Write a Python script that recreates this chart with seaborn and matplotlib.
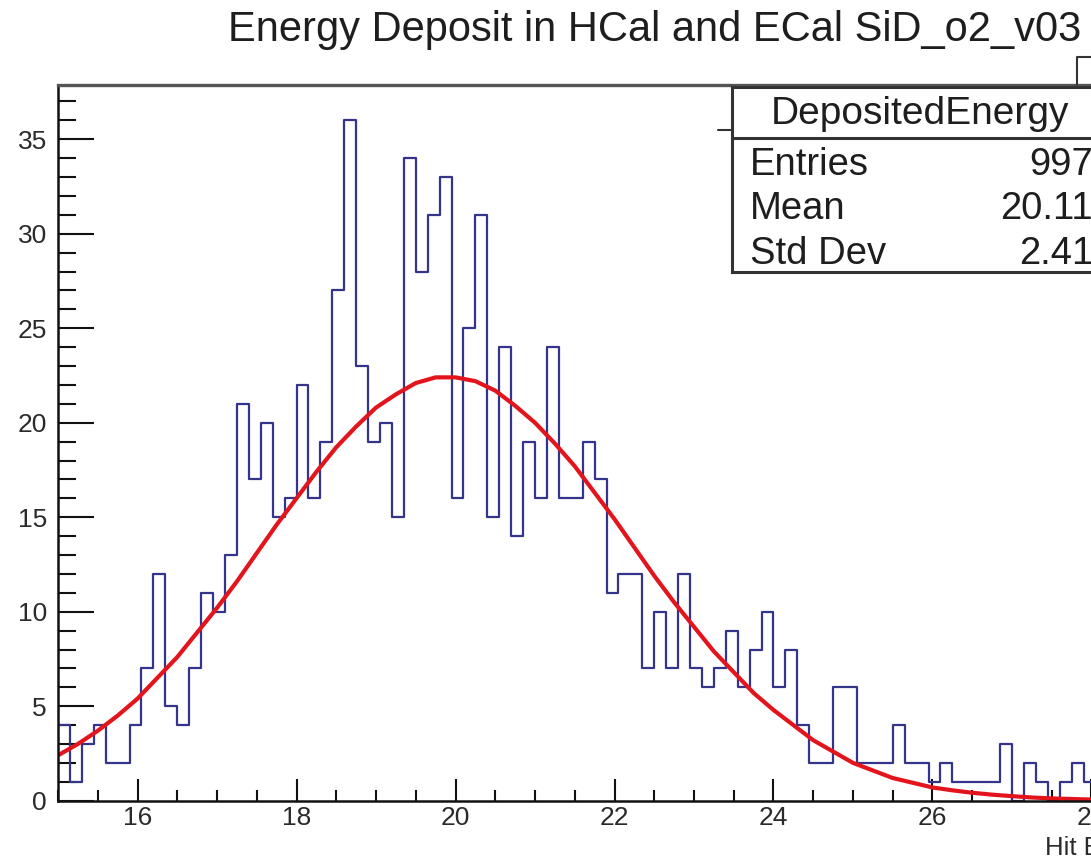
import numpy as np
import pandas as pd
import matplotlib
matplotlib.use("Agg")
import matplotlib.pyplot as plt
from matplotlib.ticker import MultipleLocator
from matplotlib.lines import Line2D
import seaborn as sns

# estilo base, fonte definida depois do set_style
sns.set_style("ticks")
plt.rcParams["font.family"] = ["Liberation Sans", "DejaVu Sans"]

# histograma: 100 bins de 15 a 30, so os bins visiveis foram lidos
x_min = 15.0
bin_width = 0.15
counts = [4, 1, 3, 4, 2, 2, 4, 7, 12, 5,
          4, 7, 11, 10, 13, 21, 17, 20, 15, 16,
          22, 16, 19, 27, 36, 23, 19, 20, 15, 34,
          28, 31, 33, 16, 25, 31, 15, 24, 14, 19,
          16, 24, 16, 16, 19, 17, 11, 12, 12, 7,
          10, 7, 12, 7, 6, 7, 9, 6, 8, 10,
          6, 8, 4, 2, 2, 6, 6, 2, 2, 2,
          4, 2, 2, 1, 2, 1, 1, 1, 1, 3,
          0, 2, 1, 0, 1, 2, 1]

# curva do ajuste (passo de 0.25)
fit_x = [15.0, 15.25, 15.5, 15.75, 16.0, 16.25, 16.5, 16.75, 17.0, 17.25, 17.5, 17.75,
         18.0, 18.25, 18.5, 18.75, 19.0, 19.25, 19.5, 19.75, 20.0, 20.25, 20.5, 20.75,
         21.0, 21.25, 21.5, 21.75, 22.0, 22.25, 22.5, 22.75, 23.0, 23.25, 23.5, 23.75,
         24.0, 24.25, 24.5, 24.75, 25.0, 25.25, 25.5, 25.75, 26.0, 26.25, 26.5, 26.75,
         27.0, 27.25, 27.5, 27.75, 28.0]
fit_y = [2.4, 3.0, 3.7, 4.5, 5.4, 6.5, 7.6, 8.9, 10.2, 11.6, 13.1, 14.6,
         16.0, 17.4, 18.7, 19.8, 20.8, 21.5, 22.1, 22.4, 22.4, 22.2, 21.7, 20.9,
         20.0, 18.9, 17.7, 16.3, 14.9, 13.4, 11.9, 10.5, 9.2, 7.9, 6.8, 5.7,
         4.8, 4.0, 3.2, 2.6, 2.0, 1.6, 1.2, 0.95, 0.7, 0.55, 0.42, 0.32,
         0.24, 0.17, 0.12, 0.09, 0.06]

# caixa de estatisticas
stat_title = "DepositedEnergy"
stat_names = ["Entries", "Mean", "Std Dev"]
stat_values = ["997", "20.11", "2.41"]

edges = x_min + bin_width * np.arange(len(counts) + 1)
df = pd.DataFrame({"centro": edges[:-1] + bin_width / 2, "contagem": counts})
df_fit = pd.DataFrame({"x": fit_x, "y": fit_y})

W, H = 1091, 858
fig = plt.figure(figsize=(W / 100, H / 100), dpi=100)
fig.patch.set_facecolor("white")

# eixo principal (vai alem da borda direita, como no recorte original)
ax = fig.add_axes([58 / W, 1 - 800.7 / H, 15 * 79.5 / W, (800.7 - 85) / H])
sns.histplot(data=df, x="centro", weights="contagem", bins=list(edges), element="step",
             fill=False, color="#34348a", linewidth=1.6, ax=ax)
sns.lineplot(data=df_fit, x="x", y="y", color="#e3141c", linewidth=3.0, ax=ax)

ax.set_xlim(15, 30)
ax.set_ylim(0, 37.87)
ax.set_xlabel("")
ax.set_ylabel("")
ax.xaxis.set_major_locator(MultipleLocator(2))
ax.xaxis.set_minor_locator(MultipleLocator(0.5))
ax.yaxis.set_major_locator(MultipleLocator(5))
ax.yaxis.set_minor_locator(MultipleLocator(1))
ax.tick_params(which="both", direction="in", top=False, right=False, color="#111111")
ax.tick_params(axis="x", which="major", length=16, width=1.5, labelsize=19, pad=3.5, labelcolor="#2a2a2a")
ax.tick_params(axis="x", which="minor", length=8, width=1.5)
ax.tick_params(axis="y", which="major", length=26, width=1.5, labelsize=19, pad=8, labelcolor="#2a2a2a")
ax.tick_params(axis="y", which="minor", length=13, width=1.5)
for s in ["left", "bottom"]:
    ax.spines[s].set_linewidth(1.8)
    ax.spines[s].set_color("#111111")
ax.spines["top"].set_linewidth(2.4)
ax.spines["top"].set_color("#555555")
ax.spines["right"].set_visible(False)

# titulo e titulo do eixo x
fig.text(228 / W, 1 - 41 / H, "Energy Deposit in HCal and ECal SiD_o2_v03",
         fontsize=30, ha="left", va="baseline", color="#1e1e1e")
fig.text(1045 / W, 1 - 855 / H, "Hit Energy [GeV]", fontsize=18.5, ha="left", va="baseline",
         color="#2a2a2a")

# pequenos tracos de molduras sobrepostas
fig.add_artist(Line2D([1077 / W, 1077 / W, 1.0], [1 - 85 / H, 1 - 57 / H, 1 - 57 / H],
                      transform=fig.transFigure, color="#333333", lw=1.5))
fig.add_artist(Line2D([718 / W, 732 / W], [1 - 130 / H, 1 - 130 / H],
                      transform=fig.transFigure, color="#333333", lw=1.5))

# caixa de estatisticas
box = fig.add_axes([732 / W, 1 - 272 / H, 378 / W, 185 / H])
box.set_facecolor("white")
box.set_xticks([])
box.set_yticks([])
box.set_xlim(0, 1)
box.set_ylim(0, 1)
for s in box.spines.values():
    s.set_linewidth(2.2)
    s.set_color("#333333")
box.axhline(0.724, color="#333333", lw=2.2)
box.text(0.497, 0.855, stat_title, fontsize=28, ha="center", va="center", color="#1e1e1e")
for i, (nome, valor) in enumerate(zip(stat_names, stat_values)):
    yy = [0.58, 0.338, 0.095][i]
    box.text(0.048, yy, nome, fontsize=27.5, ha="left", va="center", color="#1e1e1e")
    box.text(0.955, yy, valor, fontsize=27.5, ha="right", va="center", color="#1e1e1e")

fig.savefig("out.png", dpi=100, facecolor="white")
